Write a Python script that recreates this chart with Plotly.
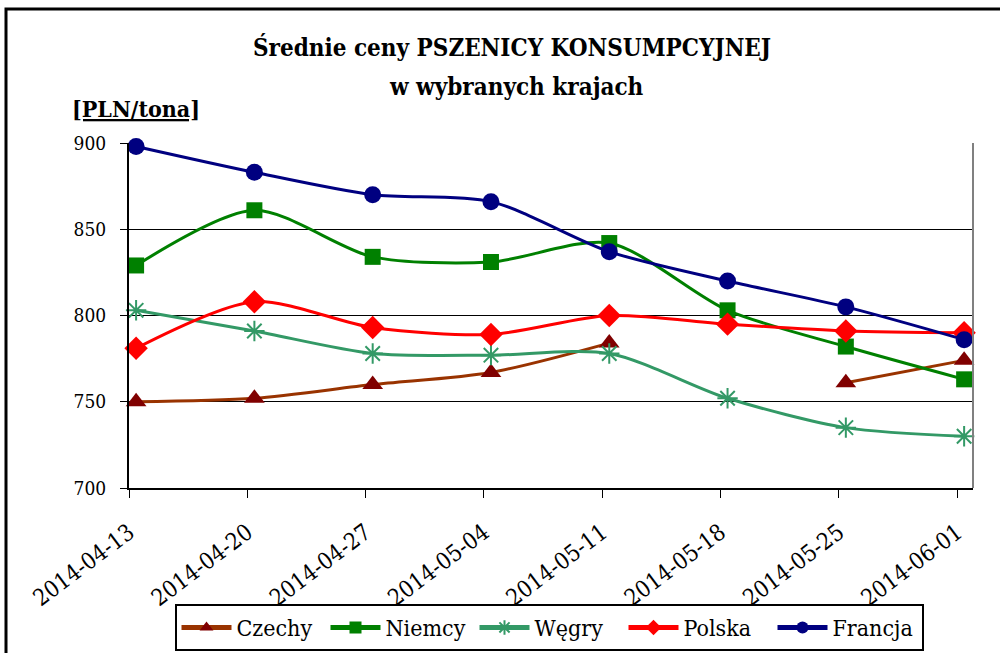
import plotly.graph_objects as go

# ---- data ----
dates = ["2014-04-13", "2014-04-20", "2014-04-27", "2014-05-04",
         "2014-05-11", "2014-05-18", "2014-05-25", "2014-06-01"]
czechy = [750, 752, 760, 767, 784, None, 761, 774]
niemcy = [829, 861, 834, 831, 842, 803, 782, 763]
wegry = [803, 791, 778, 777, 778, 752, 735, 730]
polska = [781, 808, 793, 789, 800, 795, 791, 790]
francja = [898, 883, 870, 866, 837, 820, 805, 786]
title_line1 = "Średnie ceny PSZENICY KONSUMPCYJNEJ"
title_line2 = "w wybranych krajach"
unit_label = "[PLN/tona]"

# ---- styles ----
FONT = "DejaVu Serif Condensed"
POINT_SHIFT = 0.06  # points sit slightly right of the tick marks
xpos = [i + POINT_SHIFT for i in range(len(dates))]

series = [
    ("Czechy", czechy, "#993300", "#800000", "triangle-up", 18),
    ("Niemcy", niemcy, "#008000", "#008000", "square", 16),
    ("Węgry", wegry, "#339966", "#339966", "asterisk-open", 17),
    ("Polska", polska, "#FF0000", "#FF0000", "diamond", 18),
    ("Francja", francja, "#000080", "#000080", "circle", 17),
]

fig = go.Figure()
for name, vals, lc, mc, sym, size in series:
    marker = dict(symbol=sym, size=size, color=mc)
    if sym == "asterisk-open":
        marker["line"] = dict(color=mc, width=2)
    fig.add_trace(go.Scatter(
        x=xpos, y=vals, name=name, mode="lines+markers",
        line=dict(color=lc, width=3, shape="spline", smoothing=0.8),
        marker=marker, connectgaps=False, cliponaxis=False,
    ))

W, H = 1000, 653
L, R, T, B = 129, 27, 143, 165
PW, PH = W - L - R, H - T - B


def px_x(x):
    return (x - L) / PW


def px_y(y):
    return (H - B - y) / PH


fig.update_layout(
    width=W, height=H,
    margin=dict(l=L, r=R, t=T, b=B, autoexpand=False),
    paper_bgcolor="white", plot_bgcolor="white",
    font=dict(family=FONT, color="black", size=20),
    title=dict(
        text="<b>" + title_line1 + "</b>",
        x=0.512, xanchor="center", xref="container",
        y=1 - 48 / H, yanchor="middle", yref="container",
        font=dict(family=FONT, size=24, color="black"),
    ),
    showlegend=True,
    legend=dict(
        orientation="h", x=px_x(549), xanchor="center", y=px_y(604), yanchor="top",
        bordercolor="black", borderwidth=2, bgcolor="white",
        font=dict(family=FONT, size=23, color="black"),
        itemsizing="constant", itemwidth=50,
        entrywidth=84, entrywidthmode="pixels",
    ),
    xaxis=dict(
        range=[0, 7.135], tickmode="array", tickvals=list(range(len(dates))),
        ticktext=dates, tickangle=-37, ticks="outside", ticklen=8, tickwidth=1,
        tickcolor="black", showline=True, linecolor="black", linewidth=2,
        showgrid=False, zeroline=False, automargin=False,
        tickfont=dict(family=FONT, size=23, color="black"),
        ticklabelstandoff=12,
    ),
    yaxis=dict(
        range=[700, 900], dtick=50, ticks="outside", ticklen=7, tickwidth=1,
        tickcolor="black", showline=True, linecolor="black", linewidth=2,
        showgrid=True, gridcolor="black", gridwidth=1, zeroline=False,
        automargin=False,
        tickfont=dict(family=FONT, size=19, color="black"),
        ticklabelstandoff=10,
    ),
    annotations=[
        dict(
            text="<b>" + title_line2 + "</b>", xref="paper", yref="paper",
            x=px_x(516), y=px_y(86), xanchor="center", yanchor="middle",
            showarrow=False, font=dict(family=FONT, size=24, color="black"),
        ),
        dict(
            text="<u><b>" + unit_label + "</b></u>", xref="paper", yref="paper",
            x=px_x(70), y=px_y(108),
            xanchor="left", yanchor="middle", showarrow=False,
            font=dict(family=FONT, size=23, color="black"),
        ),
    ],
    shapes=[
        # right border of the plot area
        dict(type="line", xref="paper", yref="paper", x0=1, x1=1, y0=0, y1=1,
             line=dict(color="#808080", width=2)),
        # outer chart border
        dict(type="rect", xref="paper", yref="paper",
             x0=px_x(6), x1=px_x(1010), y0=px_y(670), y1=px_y(9),
             line=dict(color="black", width=3), fillcolor="rgba(0,0,0,0)"),
    ],
)

fig.write_html("out.html", config={"displayModeBar": False},
               post_script="document.body.style.margin='0px';")
